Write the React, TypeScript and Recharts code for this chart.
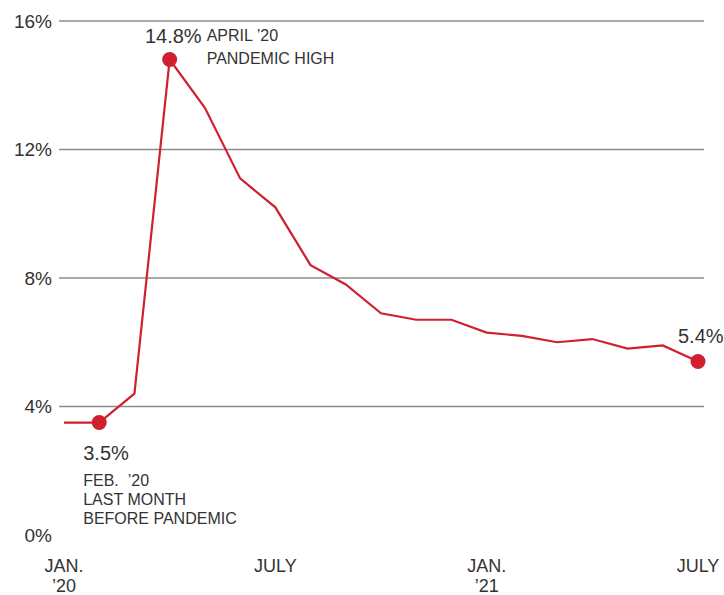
import { LineChart, Line, XAxis, YAxis, ReferenceLine } from 'recharts';

const months = [
  'Jan 20', 'Feb 20', 'Mar 20', 'Apr 20', 'May 20', 'Jun 20', 'Jul 20', 'Aug 20', 'Sep 20', 'Oct 20',
  'Nov 20', 'Dec 20', 'Jan 21', 'Feb 21', 'Mar 21', 'Apr 21', 'May 21', 'Jun 21', 'Jul 21',
];
const rates = [3.5, 3.5, 4.4, 14.8, 13.3, 11.1, 10.2, 8.4, 7.8, 6.9, 6.7, 6.7, 6.3, 6.2, 6.0, 6.1, 5.8, 5.9, 5.4];

const yTicks = [0, 4, 8, 12, 16];
const gridValues = [4, 8, 12, 16];

const xTickMonths = ['Jan 20', 'Jul 20', 'Jan 21', 'Jul 21'];
const xTickTop = ['JAN.', 'JULY', 'JAN.', 'JULY'];
const xTickBottom = ['\u201920', '', '\u201921', ''];

// highlighted months: value label + note lines
const highlightMonths = ['Feb 20', 'Apr 20', 'Jul 21'];
const highlightLabels = ['3.5%', '14.8%', '5.4%'];
const highlightNotes = [
  ['FEB.  \u201920', 'LAST MONTH', 'BEFORE PANDEMIC'],
  ['APRIL \u201920', 'PANDEMIC HIGH'],
  [],
];

const data = months.map((m, i) => ({ month: m, rate: rates[i] }));

const RED = '#d0202f';
const TEXT = '#333333';
const FONT = '"Liberation Sans", Arial, Helvetica, sans-serif';

function MonthTick(props: any) {
  const { x, y, payload } = props;
  const i = xTickMonths.indexOf(payload.value);
  if (i < 0) return <g />;
  return (
    <g>
      <text x={x} y={y + 35} textAnchor="middle" fontSize={18} fill={TEXT} fontFamily={FONT}>
        {xTickTop[i]}
      </text>
      {xTickBottom[i] && (
        <text x={x} y={y + 55} textAnchor="middle" fontSize={18} fill={TEXT} fontFamily={FONT}>
          {xTickBottom[i]}
        </text>
      )}
    </g>
  );
}

function HighlightDot(props: any) {
  const { cx, cy, payload, index } = props;
  const h = highlightMonths.indexOf(payload.month);
  if (h < 0) return <g key={`d${index}`} />;
  const label = highlightLabels[h];
  const notes = highlightNotes[h];
  let content;
  if (h === 0) {
    content = (
      <g>
        <text x={cx - 16} y={cy + 37} fontSize={20} fill={TEXT}>{label}</text>
        {notes.map((n, k) => (
          <text key={k} x={cx - 16} y={cy + 63 + k * 19} fontSize={16} fill={TEXT} style={{ whiteSpace: 'pre' }}>
            {n}
          </text>
        ))}
      </g>
    );
  } else if (h === 1) {
    content = (
      <g>
        <text x={cx + 32} y={cy - 17} fontSize={20} fill={TEXT} textAnchor="end">{label}</text>
        {notes.map((n, k) => (
          <text key={k} x={cx + 37} y={cy - 19 + k * 23} fontSize={16} fill={TEXT}>
            {n}
          </text>
        ))}
      </g>
    );
  } else {
    content = (
      <text x={cx - 20} y={cy - 19} fontSize={20} fill={TEXT}>{label}</text>
    );
  }
  return (
    <g key={`d${index}`} fontFamily={FONT}>
      <circle cx={cx} cy={cy} r={7.5} fill={RED} stroke="none" />
      {content}
    </g>
  );
}

export default function App() {
  return (
    <div style={{ position: 'absolute', left: 0, top: 0, background: '#fff' }}>
      <LineChart width={724} height={595} data={data} margin={{ top: 21, right: 20, bottom: 0, left: 0 }}>
        {gridValues.map((v) => (
          <ReferenceLine key={v} y={v} stroke="#8c8c8c" strokeWidth={1.5} />
        ))}
        <XAxis
          dataKey="month"
          height={60}
          interval={5}
          padding={{ left: 5, right: 6 }}
          axisLine={false}
          tickLine={false}
          tickSize={0}
          tick={<MonthTick />}
        />
        <YAxis
          width={59}
          domain={[0, 16]}
          ticks={yTicks}
          tickFormatter={(v) => `${v}%`}
          axisLine={false}
          tickLine={false}
          tickSize={0}
          tickMargin={7}
          tick={{ fontSize: 19, fill: TEXT, fontFamily: FONT }}
        />
        <Line
          type="linear"
          dataKey="rate"
          stroke={RED}
          strokeWidth={2.2}
          dot={HighlightDot}
          activeDot={false}
          isAnimationActive={false}
        />
      </LineChart>
    </div>
  );
}
